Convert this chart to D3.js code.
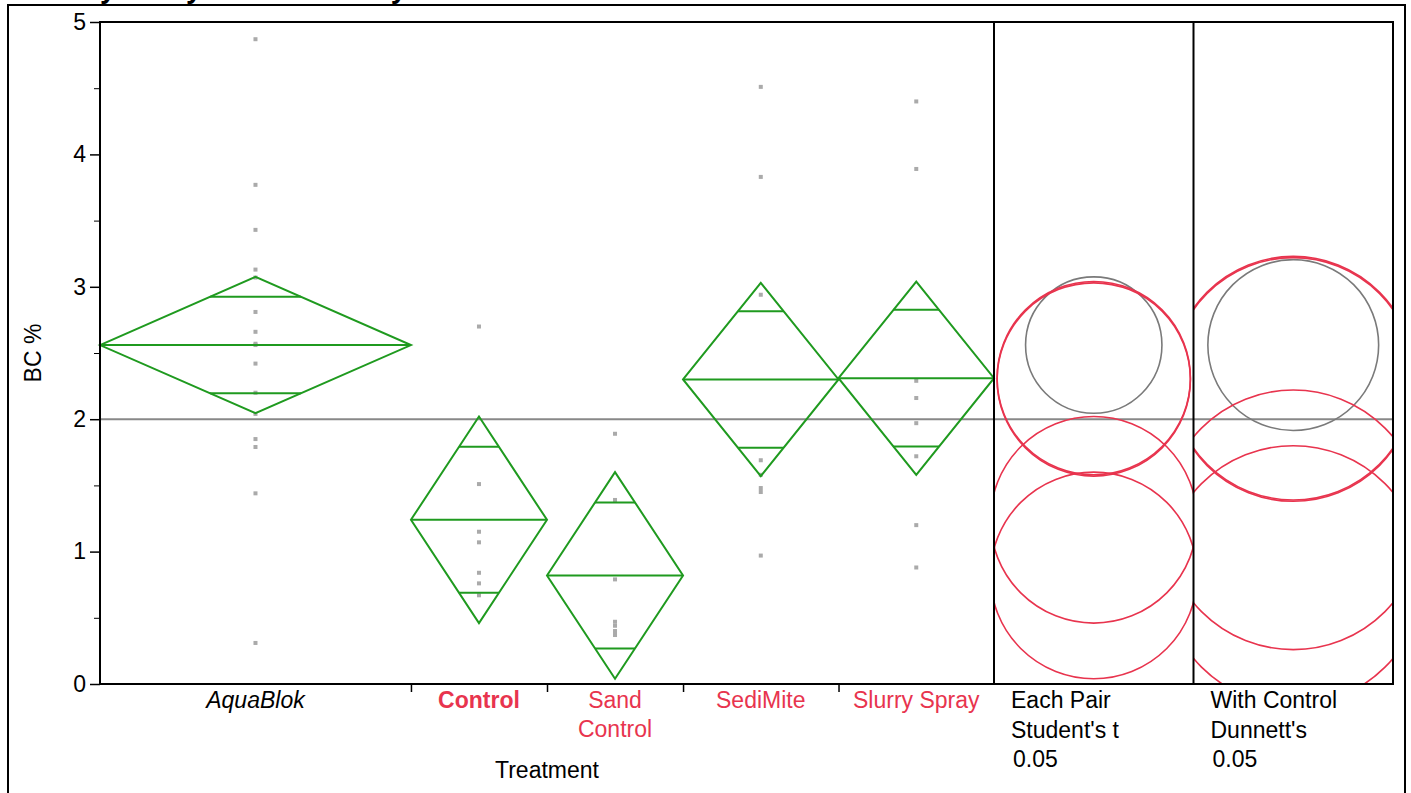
<!DOCTYPE html>
<html>
<head>
<meta charset="utf-8">
<script src="https://cdn.jsdelivr.net/npm/d3@7"></script>
<style>
  body { margin: 0; background: #fff; }
  svg { display: block; font-family: "Liberation Sans", Arial, sans-serif; }
</style>
</head>
<body>
<svg id="chart" width="1411" height="793"></svg>
<script>
// Data
const treatments = ["AquaBlok", "Control", "Sand Control", "SediMite", "Slurry Spray"];
const aquaBlokPts = [4.87, 3.77, 3.43, 3.13, 3.07, 2.81, 2.66, 2.57, 2.56, 2.42, 2.20, 2.04, 1.85, 1.79, 1.44, 0.31];
const controlPts = [2.70, 1.51, 1.15, 1.07, 0.84, 0.76, 0.67];
const sandControlPts = [1.89, 1.39, 0.79, 0.47, 0.44, 0.40, 0.37];
const sediMitePts = [4.51, 3.83, 2.94, 1.69, 1.58, 1.48, 1.45, 0.97];
const slurrySprayPts = [4.40, 3.89, 2.29, 2.16, 1.97, 1.72, 1.20, 0.88];
const means = [2.56, 1.24, 0.82, 2.30, 2.31];
const ciHalf = [0.515, 0.78, 0.78, 0.73, 0.73];        // Student's t 95% half width
const dunnettHalf = [0.645, 0.98, 0.98, 0.92, 0.92];   // Dunnett's half width
const grandMean = 2.0;
const differsFromControl = [true, false, false, false, false];
const yTicks = [0, 1, 2, 3, 4, 5];
const panelNames = ["Each Pair", "With Control"];
const panelLabels = [["Each Pair", "Student's t", "0.05"], ["With Control", "Dunnett's", "0.05"]];

const groups = [aquaBlokPts, controlPts, sandControlPts, sediMitePts, slurrySprayPts];

const GREEN = "#1f9a1f";
const RED = "#e8344e";
const GREY_CIRCLE = "#7a7a7a";
const FONT = 23;

const svg = d3.select("#chart");

const plotLeft = 100, plotTop = 22, plotBottom = 684, mainRight = 994, plotRight = 1393;

// Scales
const counts = groups.map((g) => g.length);
const cum = [0, ...d3.cumsum(counts)];
const x = d3.scaleLinear().domain([0, d3.sum(counts)]).range([plotLeft, mainRight]);
const y = d3.scaleLinear().domain([0, 5]).range([plotBottom, plotTop]);
const panelX = d3.scaleBand().domain(panelNames).range([mainRight, plotRight]);

const bandStart = (i) => x(cum[i]);
const bandEnd = (i) => x(cum[i + 1]);
const bandMid = (i) => x(cum[i] + counts[i] / 2);

// Outer frame
svg.append("path")
  .attr("d", "M8,800 V5 H1405 V800")
  .attr("fill", "none")
  .attr("stroke", "#000")
  .attr("stroke-width", 2);

// Title (cut off at the top in the reference)
svg.append("text")
  .attr("x", 5)
  .attr("y", -2)
  .style("font-weight", "bold")
  .style("font-size", "29px")
  .text("Oneway Analysis of BC % By Treatment");

// Grand mean line
svg.append("line")
  .attr("x1", plotLeft).attr("x2", plotRight)
  .attr("y1", y(grandMean)).attr("y2", y(grandMean))
  .attr("stroke", "#888")
  .attr("stroke-width", 2);

// Data points
groups.forEach((pts, i) => {
  svg.append("g")
    .selectAll("rect")
    .data(pts)
    .enter()
    .append("rect")
    .attr("x", bandMid(i) - 2)
    .attr("y", (d) => y(d) - 2)
    .attr("width", 4)
    .attr("height", 4)
    .attr("fill", "#aaa");
});

// Means diamonds
const diamonds = svg.append("g")
  .attr("fill", "none")
  .attr("stroke", GREEN)
  .attr("stroke-width", 2);

treatments.forEach((t, i) => {
  const x0 = bandStart(i), x1 = bandEnd(i), xc = bandMid(i);
  const m = means[i], h = ciHalf[i];
  diamonds.append("path")
    .attr("d", `M${x0},${y(m)} L${xc},${y(m + h)} L${x1},${y(m)} L${xc},${y(m - h)} Z`);
  diamonds.append("line")
    .attr("x1", x0).attr("x2", x1)
    .attr("y1", y(m)).attr("y2", y(m));
  // overlap marks at mean +/- h/sqrt(2)
  const f = Math.SQRT1_2;
  const hw = (1 - f) * (x1 - x0) / 2;
  [m + h * f, m - h * f].forEach((v) => {
    diamonds.append("line")
      .attr("x1", xc - hw).attr("x2", xc + hw)
      .attr("y1", y(v)).attr("y2", y(v));
  });
});

// Comparison circles
const radiusSets = [ciHalf, dunnettHalf];
panelNames.forEach((p, k) => {
  const px = panelX(p);
  const clipId = "clip" + k;
  svg.append("clipPath")
    .attr("id", clipId)
    .append("rect")
    .attr("x", px).attr("y", plotTop)
    .attr("width", panelX.bandwidth()).attr("height", plotBottom - plotTop);

  svg.append("g")
    .attr("clip-path", `url(#${clipId})`)
    .selectAll("circle")
    .data(treatments)
    .enter()
    .append("circle")
    .attr("cx", px + panelX.bandwidth() / 2)
    .attr("cy", (d, i) => y(means[i]))
    .attr("r", (d, i) => y(0) - y(radiusSets[k][i]))
    .attr("fill", "none")
    .attr("stroke", (d, i) => (differsFromControl[i] ? GREY_CIRCLE : RED))
    .attr("stroke-width", 1.6);
});

// Y axis
const yAxis = d3.axisLeft(y)
  .tickValues(yTicks)
  .tickFormat(d3.format("d"))
  .tickSize(10)
  .tickSizeOuter(0)
  .tickPadding(4);
const yG = svg.append("g")
  .attr("transform", `translate(${plotLeft},0)`)
  .call(yAxis);
yG.select(".domain").remove();
yG.selectAll("line").attr("stroke-width", 1.5);
yG.selectAll("text")
  .attr("fill", "#000")
  .style("font-size", FONT + "px")
  .style("font-family", "Liberation Sans, Arial, sans-serif");

// minor ticks
svg.append("g")
  .attr("transform", `translate(${plotLeft},0)`)
  .call(d3.axisLeft(y).tickValues(d3.range(0.5, 5, 1)).tickSize(6).tickFormat(""))
  .select(".domain").remove();

// X axis ticks at group boundaries
const xG = svg.append("g")
  .attr("transform", `translate(0,${plotBottom})`)
  .call(d3.axisBottom(x).tickValues(cum.slice(1, -1)).tickSize(8).tickFormat(""));
xG.select(".domain").remove();
xG.selectAll("line").attr("stroke-width", 1.5);

// Plot frame
const frame = svg.append("g").attr("stroke", "#000").attr("stroke-width", 2).attr("fill", "none");
frame.append("rect")
  .attr("x", plotLeft).attr("y", plotTop)
  .attr("width", plotRight - plotLeft).attr("height", plotBottom - plotTop);
[mainRight, mainRight + panelX.bandwidth()].forEach((vx) => {
  frame.append("line").attr("x1", vx).attr("x2", vx).attr("y1", plotTop).attr("y2", plotBottom);
});

// Category labels
const labelStyle = (d, i) => ({
  fill: i === 0 ? "#000" : RED,
  style: i === 0 ? "italic" : "normal",
  weight: i === 1 ? "bold" : "normal",
});
treatments.forEach((t, i) => {
  const s = labelStyle(t, i);
  const lines = t === "Sand Control" ? ["Sand", "Control"] : [t];
  const txt = svg.append("text")
    .attr("x", bandMid(i))
    .attr("y", 708)
    .attr("text-anchor", "middle")
    .attr("fill", s.fill)
    .style("font-size", FONT + "px")
    .style("font-style", s.style)
    .style("font-weight", s.weight);
  lines.forEach((l, j) => {
    txt.append("tspan").attr("x", bandMid(i)).attr("dy", j === 0 ? 0 : 29).text(l);
  });
});

// Panel labels
panelNames.forEach((p, k) => {
  const txt = svg.append("text")
    .attr("y", 708)
    .style("font-size", FONT + "px");
  panelLabels[k].forEach((l, j) => {
    txt.append("tspan")
      .attr("x", panelX(p) + (j === 2 ? 19 : 17))
      .attr("dy", j === 0 ? 0 : 29.5)
      .text(l);
  });
});

// Axis titles
svg.append("text")
  .attr("x", (plotLeft + mainRight) / 2)
  .attr("y", 778)
  .attr("text-anchor", "middle")
  .style("font-size", FONT + "px")
  .text("Treatment");

svg.append("text")
  .attr("transform", `translate(41,${(plotTop + plotBottom) / 2}) rotate(-90)`)
  .attr("text-anchor", "middle")
  .style("font-size", FONT + "px")
  .text("BC %");
</script>
</body>
</html>
